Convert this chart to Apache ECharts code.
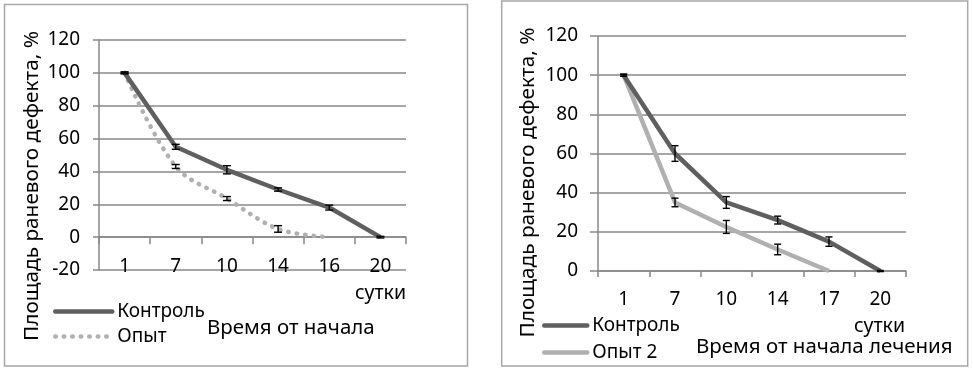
<!DOCTYPE html>
<html><head><meta charset="utf-8">
<script src="https://cdn.jsdelivr.net/npm/echarts@6/dist/echarts.min.js"></script>
<style>
html,body{margin:0;padding:0;background:#fff;overflow:hidden;}
#c1{position:absolute;left:0;top:0;width:486px;height:371px;}
#c2{position:absolute;left:486px;top:0;width:487px;height:371px;}
</style>
</head><body><div id="c1"></div><div id="c2"></div>
<script>
// ---- data ----
const leftCategories = ['1', '7', '10', '14', '16', '20'];
const leftControl = [100, 55, 41, 29, 18, 0];
const leftControlErr = [0.5, 1.5, 2.5, 1, 1.5, 0.5];
const leftExperiment = [100, 43, 23.5, 5, 0, null];
const leftExperimentErr = [0.5, 1.2, 1.2, 2, null, null];

const rightCategories = ['1', '7', '10', '14', '17', '20'];
const rightControl = [100, 60, 35, 26, 15, 0];
const rightControlErr = [0.5, 4, 3, 2, 2.4, 0.3];
const rightExperiment = [100, 35, 22.5, 11, 0, null];
const rightExperimentErr = [0.5, 2.2, 3.3, 2.7, null, null];

const leftYTicks = [-20, 0, 20, 40, 60, 80, 100, 120];
const rightYTicks = [0, 20, 40, 60, 80, 100, 120];

const yAxisTitle = 'Площадь раневого дефекта, %';
const unitLabel = 'сутки';
const leftXTitle = 'Время от начала';
const rightXTitle = 'Время от начала лечения';
const nameControl = 'Контроль';
const nameExpLeft = 'Опыт';
const nameExpRight = 'Опыт 2';

// ---- style ----
const FONT = '"Noto Sans", "Open Sans", sans-serif';
const GRID_C = '#888888';
const DARK = '#5f5f5f';
const LIGHT = '#b0b0b0';

function errSeries(values, errs, capHalf) {
  const data = [];
  values.forEach((v, i) => { if (v != null && errs[i] != null) data.push([i, v - errs[i], v + errs[i]]); });
  return {
    type: 'custom', silent: true, z: 10, xAxisIndex: 0, yAxisIndex: 0,
    encode: { x: 0, y: [1, 2] },
    renderItem: function (params, api) {
      const lo = api.coord([api.value(0), api.value(1)]);
      const hi = api.coord([api.value(0), api.value(2)]);
      const st = { stroke: '#000', lineWidth: 1.4 };
      return { type: 'group', children: [
        { type: 'line', shape: { x1: lo[0], y1: lo[1], x2: hi[0], y2: hi[1] }, style: st },
        { type: 'line', shape: { x1: lo[0] - capHalf, y1: lo[1], x2: lo[0] + capHalf, y2: lo[1] }, style: st },
        { type: 'line', shape: { x1: hi[0] - capHalf, y1: hi[1], x2: hi[0] + capHalf, y2: hi[1] }, style: st }
      ]};
    },
    data: data
  };
}

function txt(text, x, y, align, size, extra) {
  return Object.assign({
    type: 'text', x: x, y: y, silent: true,
    style: { text: text, fill: '#000', font: size + 'px ' + FONT, align: align, verticalAlign: 'middle', textAlign: align, textVerticalAlign: 'middle' }
  }, extra || {});
}

// ---- left chart ----
const c1 = echarts.init(document.getElementById('c1'));
c1.setOption({
  animation: false,
  textStyle: { fontFamily: FONT },
  grid: { left: 99, top: 40, width: 307, height: 230 },
  legend: {
    orient: 'vertical', left: 53, top: 302, padding: 0, itemWidth: 57, itemHeight: 14, itemGap: 6,
    itemStyle: { opacity: 0 },
    lineStyle: { width: 4.5, cap: 'round' },
    textStyle: { fontSize: 19, color: '#000', fontFamily: FONT },
    data: [nameControl, nameExpLeft]
  },
  xAxis: [
    { type: 'category', data: leftCategories, position: 'bottom',
      axisLine: { show: false, onZero: false }, axisTick: { show: false },
      axisLabel: { margin: -3.5, verticalAlign: 'middle', fontSize: 19, color: '#000', fontFamily: FONT } },
    { type: 'category', data: leftCategories, position: 'bottom',
      axisLine: { show: true, onZero: true, lineStyle: { color: GRID_C, width: 1.5 } },
      axisTick: { show: true, length: 7, lineStyle: { color: GRID_C, width: 1.5 } },
      axisLabel: { show: false } }
  ],
  yAxis: {
    type: 'value', min: leftYTicks[0], max: leftYTicks[leftYTicks.length - 1], interval: leftYTicks[1] - leftYTicks[0],
    axisLine: { show: true, lineStyle: { color: GRID_C, width: 1.5 } },
    axisTick: { show: true, length: 6, lineStyle: { color: GRID_C, width: 1.5 } },
    splitLine: { show: true, lineStyle: { color: GRID_C, width: 1.5 } },
    axisLabel: { margin: 19, fontSize: 19, color: '#000', fontFamily: FONT }
  },
  series: [
    { name: nameControl, type: 'line', data: leftControl, symbol: 'none', z: 4,
      lineStyle: { color: DARK, width: 4.5 }, itemStyle: { color: DARK } },
    { name: nameExpLeft, type: 'line', data: leftExperiment, symbol: 'none', smooth: 0.35, z: 3,
      lineStyle: { color: LIGHT, width: 4.5, type: [0.5, 8], cap: 'round' }, itemStyle: { color: LIGHT } },
    errSeries(leftControl, leftControlErr, 4),
    errSeries(leftExperiment, leftExperimentErr, 4)
  ],
  graphic: [
    { type: 'rect', silent: true, shape: { x: 4.5, y: 4.5, width: 463, height: 361.5 },
      style: { fill: 'none', stroke: '#a8a8a8', lineWidth: 1.5 } },
    txt(yAxisTitle, 32, 186, 'center', 20.8, { rotation: Math.PI / 2 }),
    txt(unitLabel, 406, 293, 'right', 19.5),
    txt(leftXTitle, 207, 328, 'left', 20.5)
  ]
});

// ---- right chart ----
const c2 = echarts.init(document.getElementById('c2'));
c2.setOption({
  animation: false,
  textStyle: { fontFamily: FONT },
  grid: { left: 112, top: 36, width: 308, height: 235 },
  legend: {
    orient: 'vertical', left: 56, top: 316, padding: 0, itemWidth: 43, itemHeight: 14, itemGap: 8,
    itemStyle: { opacity: 0 },
    lineStyle: { width: 4.5, cap: 'round' },
    textStyle: { fontSize: 19, color: '#000', fontFamily: FONT },
    data: [nameControl, nameExpRight]
  },
  xAxis: {
    type: 'category', data: rightCategories, position: 'bottom',
    axisLine: { show: true, lineStyle: { color: GRID_C, width: 1.5 } },
    axisTick: { show: true, length: 6, lineStyle: { color: GRID_C, width: 1.5 } },
    axisLabel: { margin: 28.5, verticalAlign: 'middle', fontSize: 19, color: '#000', fontFamily: FONT }
  },
  yAxis: {
    type: 'value', min: rightYTicks[0], max: rightYTicks[rightYTicks.length - 1], interval: rightYTicks[1] - rightYTicks[0],
    axisLine: { show: true, lineStyle: { color: GRID_C, width: 1.5 } },
    axisTick: { show: true, length: 8, lineStyle: { color: GRID_C, width: 1.5 } },
    splitLine: { show: true, lineStyle: { color: GRID_C, width: 1.5 } },
    axisLabel: { margin: 20, fontSize: 19, color: '#000', fontFamily: FONT }
  },
  series: [
    { name: nameControl, type: 'line', data: rightControl, symbol: 'none', z: 4,
      lineStyle: { color: DARK, width: 4.5 }, itemStyle: { color: DARK } },
    { name: nameExpRight, type: 'line', data: rightExperiment, symbol: 'none', z: 3,
      lineStyle: { color: LIGHT, width: 4.5 }, itemStyle: { color: LIGHT } },
    errSeries(rightControl, rightControlErr, 3.5),
    errSeries(rightExperiment, rightExperimentErr, 3.5)
  ],
  graphic: [
    { type: 'rect', silent: true, shape: { x: 15.7, y: 1, width: 466, height: 365 },
      style: { fill: 'none', stroke: '#a8a8a8', lineWidth: 1.5 } },
    txt(yAxisTitle, 42, 182.5, 'center', 20.8, { rotation: Math.PI / 2 }),
    txt(unitLabel, 419, 326, 'right', 19.5),
    txt(rightXTitle, 210, 347, 'left', 20.5)
  ]
});
</script>
</body></html>
